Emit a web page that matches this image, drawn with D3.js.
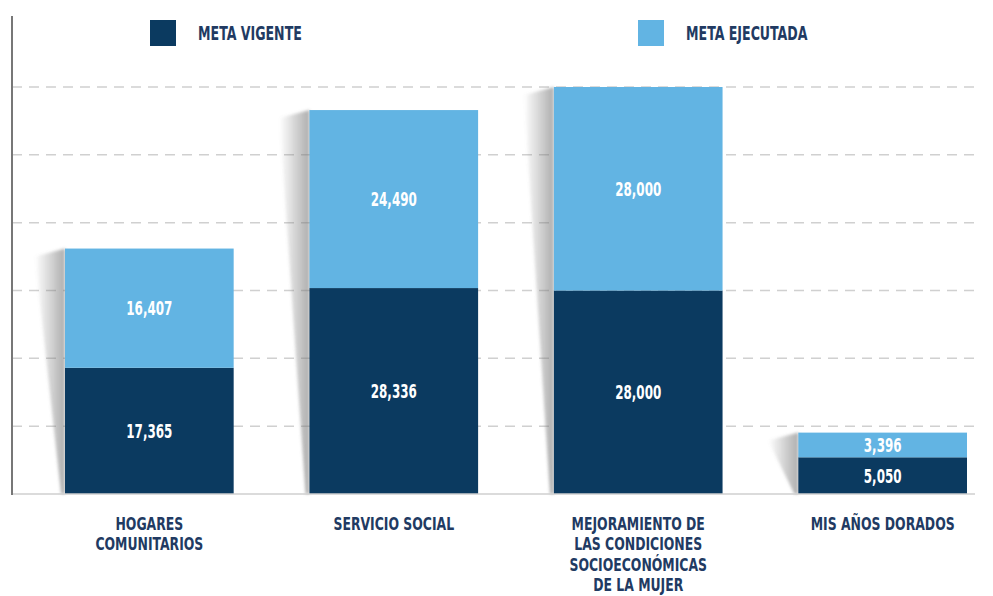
<!DOCTYPE html>
<html>
<head>
<meta charset="utf-8">
<script src="https://cdn.jsdelivr.net/npm/d3@7"></script>
<style>
  body { margin: 0; background: #fff; }
  text { font-family: "DejaVu Sans Condensed", "DejaVu Sans", sans-serif; font-weight: bold; }
</style>
</head>
<body>
<div id="chart-area"></div>
<script>

// Data
var categories = ["Hogares comunitarios", "Servicio social", "Mejoramiento de las condiciones socioeconómicas de la mujer", "Mis años dorados"];
var categoryLines = [
  ["HOGARES", "COMUNITARIOS"],
  ["SERVICIO SOCIAL"],
  ["MEJORAMIENTO DE", "LAS CONDICIONES", "SOCIOECONÓMICAS", "DE LA MUJER"],
  ["MIS AÑOS DORADOS"]
];
var metaVigente = [17365, 28336, 28000, 5050];
var metaEjecutada = [16407, 24490, 28000, 3396];
var seriesNames = ["META VIGENTE", "META EJECUTADA"];
var gridLevels = [9333, 18667, 28000, 37333, 46667, 56000];

// SVG Size
var width = 993,
    height = 596;

var colors = ["#0b3a60", "#62b4e3"];
var textColor = "#213a62";

var svg = d3.select("#chart-area").append("svg")
    .attr("width", width)
    .attr("height", height);

// Shadow gradient
var defs = svg.append("defs");
var grad = defs.append("linearGradient")
    .attr("id", "shadow-grad")
    .attr("x1", "0%").attr("x2", "100%")
    .attr("y1", "0%").attr("y2", "0%");
grad.append("stop").attr("offset", "0%").attr("stop-color", "#777").attr("stop-opacity", 0);
grad.append("stop").attr("offset", "100%").attr("stop-color", "#777").attr("stop-opacity", 0.6);
defs.append("filter").attr("id", "blur")
  .append("feGaussianBlur").attr("stdDeviation", 1.5);

// Scales
var x = d3.scaleBand()
    .domain(categories)
    .range([65, 967])
    .paddingInner(0.31)
    .paddingOuter(0);

var y = d3.scaleLinear()
    .domain([0, 56000])
    .range([494, 87]);

// Gridlines
svg.append("g")
    .attr("class", "grid")
  .selectAll("line")
    .data(gridLevels)
    .enter()
    .append("line")
    .attr("x1", 12)
    .attr("x2", 975)
    .attr("y1", function(d){ return y(d); })
    .attr("y2", function(d){ return y(d); })
    .attr("stroke", "#d0d0d0")
    .attr("stroke-width", 1.5)
    .attr("stroke-dasharray", "10,7");

// Stack data
var table = categories.map(function(c, i){
  return { cat: c, vigente: metaVigente[i], ejecutada: metaEjecutada[i] };
});
var stacked = d3.stack().keys(["vigente", "ejecutada"])(table);

// Bar shadows
svg.append("g")
  .selectAll("polygon")
    .data(table)
    .enter()
    .append("polygon")
    .attr("points", function(d){
      var x0 = x(d.cat), top = y(d.vigente + d.ejecutada), base = y(0);
      return [[x0 - 30, top + 8], [x0, top], [x0, base], [x0 - 4, base]].join(" ");
    })
    .attr("fill", "url(#shadow-grad)")
    .attr("filter", "url(#blur)");

// Bars
var layers = svg.append("g")
  .selectAll("g")
    .data(stacked)
    .enter()
    .append("g")
    .attr("fill", function(d, i){ return colors[i]; });

layers.selectAll("rect")
    .data(function(d){ return d; })
    .enter()
    .append("rect")
    .attr("x", function(d){ return x(d.data.cat); })
    .attr("y", function(d){ return y(d[1]); })
    .attr("width", x.bandwidth())
    .attr("height", function(d){ return y(d[0]) - y(d[1]); });

// Value labels
layers.selectAll("g.value")
    .data(function(d){ return d; })
    .enter()
    .append("g")
    .attr("class", "value")
    .attr("transform", function(d){
      return "translate(" + (x(d.data.cat) + x.bandwidth() / 2) + "," + ((y(d[0]) + y(d[1])) / 2 + 7) + ") scale(0.7,1)";
    })
  .append("text")
    .attr("text-anchor", "middle")
    .attr("fill", "#fff")
    .attr("font-size", 19)
    .text(function(d){ return d3.format(",")(d[1] - d[0]); });

// Axes lines
svg.append("line")
    .attr("x1", 12).attr("x2", 975)
    .attr("y1", y(0)).attr("y2", y(0))
    .attr("stroke", "#cfcfcf")
    .attr("stroke-width", 1.5);

svg.append("line")
    .attr("x1", 12).attr("x2", 12)
    .attr("y1", 16).attr("y2", y(0) + 1)
    .attr("stroke", "#777")
    .attr("stroke-width", 2);

// Category labels
var catLabels = svg.append("g")
  .selectAll("g")
    .data(categories)
    .enter()
    .append("g")
    .attr("transform", function(d){
      return "translate(" + (x(d) + x.bandwidth() / 2) + ",530) scale(0.79,1)";
    });

catLabels.append("text")
    .attr("text-anchor", "middle")
    .attr("fill", textColor)
    .attr("font-size", 17.5)
  .selectAll("tspan")
    .data(function(d, i){ return categoryLines[i]; })
    .enter()
    .append("tspan")
    .attr("x", 0)
    .attr("dy", function(d, i){ return i === 0 ? 0 : 20.5; })
    .text(function(d){ return d; });

// Legend
var legendX = [150, 638];
var legend = svg.append("g")
  .selectAll("g")
    .data(seriesNames)
    .enter()
    .append("g")
    .attr("transform", function(d, i){ return "translate(" + legendX[i] + ",20)"; });

legend.append("rect")
    .attr("width", 26)
    .attr("height", 26)
    .attr("fill", function(d, i){ return colors[i]; });

legend.append("g")
    .attr("transform", "translate(48,20) scale(0.7,1)")
  .append("text")
    .attr("fill", textColor)
    .attr("font-size", 20)
    .text(function(d){ return d; });

</script>
</body>
</html>
